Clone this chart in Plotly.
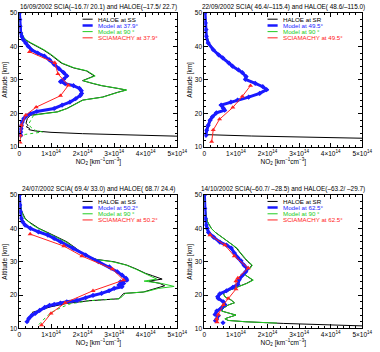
import plotly.graph_objects as go

# ---------------- data (NO2 in units of 1e14 km^-1 cm^-3, altitude in km) ----------------
titles = [
    "16/09/2002 SCIA(–16.7/ 20.1) and HALOE(–17.5/ 22.7)",
    "22/09/2002 SCIA( 46.4/–115.4) and HALOE( 48.6/–115.0)",
    "24/07/2002 SCIA( 69.4/ 33.0) and HALOE( 68.7/ 24.4)",
    "14/10/2002 SCIA(–60.7/ –28.5) and HALOE(–63.2/ –29.7)",
]
haloe_names = ["HALOE at SS", "HALOE at SR", "HALOE at SS", "HALOE at SR"]
lat_names = ["37.9", "49.5", "50.2", "62.5"]

# Panel 1
p1_haloe_alt = [50, 47, 45, 43, 42, 41, 40, 39, 37.5, 36, 35, 33.6, 32.7, 31.2, 30.5, 29.8, 29, 28.3, 27.5, 27,
                26.3, 25.5, 24.9, 24, 22.5, 21.5, 20.5, 20, 19.5, 18.5, 17.1, 16.5, 16, 15.6, 15.2, 14.8, 14.4,
                14, 13.7, 13.4, 13.2]
p1_haloe_x = [0.0, 0.02, 0.05, 0.1, 0.18, 0.35, 0.55, 0.75, 0.99, 1.2, 1.33, 1.71, 2.12, 2.37, 2.15, 2.0, 2.3, 2.6,
              3.1, 3.38, 3.1, 2.85, 2.63, 2.0, 1.71, 1.5, 1.2, 0.8, 0.35, 0.25, 0.21, 0.27, 0.22, 0.32, 0.3, 0.5,
              1.0, 2.0, 3.28, 4.3, 5.2]
p1_m90_alt = [50, 47, 45, 43, 42, 41, 40, 39, 37.5, 36, 35, 33.6, 32.7, 31.2, 30.5, 29.8, 29, 28.3, 27.5, 27,
              26.3, 25.5, 24.9, 24, 22.5, 21.5, 20.5, 20, 19.5]
p1_m90_x = [0.0, 0.02, 0.04, 0.12, 0.2, 0.38, 0.58, 0.78, 1.02, 1.22, 1.36, 1.74, 2.15, 2.4, 2.18, 2.02, 2.32, 2.62,
            3.12, 3.4, 3.12, 2.87, 2.65, 2.02, 1.74, 1.52, 1.22, 0.85, 0.45]
p1_m90low_alt = [19.5, 19, 18, 17, 16, 15, 14.5, 14.2, 13.8, 13.2, 12]
p1_m90low_x = [0.45, 0.42, 0.35, 0.3, 0.35, 0.5, 0.73, 0.5, 0.2, 0.05, 0.02]
p1_model_alt = [50, 48, 46, 44, 43, 42, 41, 40, 39, 38, 37.1, 36, 34.6, 33.4, 32.2, 31.2, 30.2, 29.5, 28.9, 28.3,
                27.5, 26.8, 26, 25.4, 24.4, 23.4, 22.5, 21.5, 20.6, 20, 19.3, 18.5, 17.5, 16.5, 15.5, 14.5, 13.5]
p1_model_x = [0.0, 0.01, 0.02, 0.04, 0.07, 0.12, 0.2, 0.28, 0.38, 0.58, 0.79, 0.95, 1.1, 1.25, 1.4, 1.5, 1.4, 1.3,
              1.45, 1.71, 1.9, 1.96, 1.97, 1.93, 1.78, 1.6, 1.35, 1.1, 0.55, 0.35, 0.22, 0.14, 0.09, 0.06, 0.05,
              0.04, 0.04]
p1_scia_alt = [38.4, 35.1, 31.8, 28.4, 25.3, 21.9, 19.5, 16.5, 13.5, 11.4]
p1_scia_x = [0.32, 1.12, 1.22, 1.55, 1.3, 0.53, 0.2, 0.06, 0.03, 0.02]

# Panel 2
p2_haloe_alt = [50, 47, 45, 43, 41, 39, 37.5, 36.6, 35, 34.1, 33, 32.2, 31, 30.2, 29, 28, 27.1, 26, 24.9, 24, 23.4,
                22.5, 21.6, 21, 20.2, 19, 18, 16.5, 15, 14, 13.7, 13.3, 12.9, 12.6]
p2_haloe_x = [0.02, 0.03, 0.05, 0.07, 0.13, 0.29, 0.46, 0.59, 0.79, 0.9, 1.09, 1.21, 1.33, 1.31, 1.62, 1.86, 1.98,
              1.76, 1.41, 1.06, 0.85, 0.54, 0.61, 0.65, 0.39, 0.26, 0.19, 0.13, 0.08, 0.06, 0.1, 1.5, 3.5, 5.2]
p2_m90_alt = [50, 47, 45, 43, 41, 39, 37.5, 36.6, 35, 34.1, 33, 32.2, 31, 30.2, 29, 28, 27.1, 26, 24.9, 24, 23.4,
              22.5, 21.6, 21, 20.2, 19, 18, 16.5, 15, 13.5]
p2_m90_x = [0.02, 0.04, 0.06, 0.08, 0.15, 0.31, 0.48, 0.61, 0.81, 0.92, 1.11, 1.23, 1.35, 1.33, 1.64, 1.88, 2.0,
            1.78, 1.43, 1.08, 0.87, 0.56, 0.63, 0.67, 0.41, 0.28, 0.2, 0.13, 0.08, 0.05]
p2_model_alt = [50, 47, 45, 43, 41, 39, 37.5, 36.6, 35, 34.1, 33, 32.2, 31, 30.2, 29, 28, 27.1, 26, 24.9, 24, 23.4,
                22.5, 21.6, 21, 20.2, 19, 18, 16.5, 15, 13.5]
p2_model_x = [0.02, 0.03, 0.05, 0.06, 0.12, 0.28, 0.45, 0.58, 0.78, 0.89, 1.08, 1.2, 1.32, 1.3, 1.61, 1.85, 1.97,
              1.75, 1.4, 1.05, 0.84, 0.53, 0.6, 0.64, 0.38, 0.25, 0.18, 0.12, 0.07, 0.05]
p2_scia_alt = [28.3, 25.1, 21.8, 18.3, 15.1, 11.6]
p2_scia_x = [1.46, 1.2, 0.9, 0.48, 0.28, 0.23]

# Panel 3
p3_haloe_alt = [50, 47, 45, 43, 42, 41, 40, 39, 37.2, 36, 34, 32.7, 31.5, 30.7, 30, 29, 27.8, 26.5, 25.8, 24.8,
                24.2, 23.5, 22.8, 22, 20.9, 20.5, 19.5, 18.9, 18.3, 17.5, 16.5, 15.5, 14.8]
p3_haloe_x = [0.0, 0.03, 0.08, 0.18, 0.3, 0.45, 0.62, 0.85, 1.26, 1.5, 1.8, 1.97, 2.2, 2.45, 3.0, 3.4, 3.71, 4.0,
              4.22, 4.52, 4.1, 4.45, 4.6, 4.3, 3.92, 3.3, 3.2, 3.15, 2.2, 1.5, 1.0, 0.6, 0.4]
p3_m90_alt = [50, 47, 45, 43, 42, 41, 40, 39, 37.2, 36, 34, 32.7, 31.5, 30.7, 30, 29, 27.8, 26.5, 25.8, 24.8,
              24.2, 23.5, 22.6, 22, 21, 20.5, 19.5, 18.9]
p3_m90_x = [0.0, 0.03, 0.07, 0.16, 0.28, 0.42, 0.6, 0.82, 1.22, 1.46, 1.78, 1.95, 2.17, 2.42, 2.95, 3.38, 3.68, 3.95,
            4.12, 4.35, 3.95, 4.5, 4.9, 4.4, 4.0, 3.35, 3.25, 3.15]
p3_m90low_alt = [18.9, 18.3, 17.4, 16.4, 15, 13.5, 12, 11]
p3_m90low_x = [3.15, 2.2, 1.62, 1.35, 1.05, 0.85, 0.7, 0.6]
p3_model_alt = [50, 47, 45, 43, 42, 41, 40, 39, 38, 37, 36, 34, 32, 30, 28.5, 27, 26, 25, 24.5, 24, 23.5, 23, 22.5,
                22, 21.3, 20.5, 19.9, 19.2, 18.4, 18.0, 17.6, 17.2, 16.9, 16.3, 15.4, 14.5, 13.9, 13, 12]
p3_model_x = [0.0, 0.01, 0.03, 0.06, 0.1, 0.18, 0.35, 0.6, 0.9, 1.1, 1.3, 1.7, 2.1, 2.5, 2.85, 3.1, 3.25, 3.38,
              3.4, 3.2, 3.3, 3.15, 3.25, 3.0, 2.84, 2.6, 2.33, 2.1, 1.82, 1.5, 1.3, 1.1, 0.95, 0.8, 0.64, 0.5,
              0.39, 0.3, 0.24]
p3_scia_alt = [38.3, 34.7, 31.7, 27.8, 24.5, 21.3, 17.7, 14.5, 11.0]
p3_scia_x = [0.34, 1.41, 1.98, 2.95, 3.3, 2.33, 1.45, 1.0, 0.7]

# Panel 4
p4_haloe_alt = [50, 46, 44, 42, 40, 38.8, 37.5, 36, 35, 34, 33, 32, 31, 30, 29, 28, 27, 26, 25, 24.5, 23.5, 22.5,
                21.5, 20.5, 19.5, 18.5, 17.7, 17, 16, 15.2, 14.5, 14, 13.4, 12.9, 12.4, 12, 11.5, 11, 10.7]
p4_haloe_x = [0.0, 0.02, 0.05, 0.1, 0.22, 0.35, 0.55, 0.75, 0.9, 1.02, 1.1, 1.18, 1.28, 1.38, 1.5, 1.43, 1.3, 1.3,
              1.43, 1.53, 1.33, 1.03, 0.8, 0.6, 0.65, 0.85, 0.95, 0.75, 0.59, 0.55, 0.85, 1.0, 0.8, 0.65, 0.75,
              1.3, 2.5, 4.0, 5.2]
p4_m90_alt = [50, 46, 44, 42, 40, 38.8, 37.5, 36, 35, 34, 33, 32, 31, 30, 29, 28, 27, 26, 25, 24.5, 23.5, 22.5,
              21.5, 20.5, 19.5, 18.5, 17.7, 17, 16, 15.2, 14.5, 14, 13.4, 12.9, 12.4, 12, 11.6]
p4_m90_x = [0.0, 0.02, 0.05, 0.1, 0.22, 0.35, 0.55, 0.78, 0.92, 1.05, 1.12, 1.2, 1.3, 1.4, 1.52, 1.45, 1.3, 1.3,
            1.45, 1.55, 1.35, 1.05, 0.8, 0.6, 0.65, 0.85, 0.95, 0.75, 0.59, 0.55, 0.85, 1.0, 0.8, 0.65, 0.75,
            1.3, 2.3]
p4_model_alt = [50, 46, 43, 41, 40, 38.8, 37.4, 35.9, 35, 34.1, 32.6, 31.2, 30.3, 28.9, 27.9, 27, 26, 24.6, 23.2,
                22.3, 21.3, 20.4, 19.5, 19, 18, 17.1, 16.1, 15.2, 14.2, 13.8, 12.8, 12.3]
p4_model_x = [0.0, 0.01, 0.03, 0.06, 0.09, 0.13, 0.29, 0.49, 0.7, 0.85, 0.95, 1.06, 1.16, 1.26, 1.36, 1.31, 1.21,
              1.1, 1.06, 0.9, 0.7, 0.49, 0.42, 0.44, 0.6, 0.65, 0.54, 0.39, 0.34, 0.44, 0.39, 0.35]
p4_model_extra_alt = [11.7]
p4_model_extra_x = [0.59]
p4_scia_alt = [38.0, 35.0, 31.7, 28.1, 25.1, 24.2, 21.8, 19.0, 17.1, 14.2, 12.8, 11.9]
p4_scia_x = [0.18, 0.65, 0.95, 1.39, 1.06, 1.0, 1.0, 0.75, 0.6, 0.44, 0.39, 0.4]

x_tickvals = [0, 1, 2, 3, 4, 5]
x_ticktext = ["0"] + [f"{i}×10<sup>14</sup>" for i in range(1, 6)]
y_tickvals = [10, 20, 30, 40, 50]

# ---------------- styling ----------------
BLACK = "#000000"
BLUE = "#1a1aff"
GREEN = "#22cc22"
RED = "#ff2222"
FONT = "Liberation Sans"
FS_TICK = 6.5
FS_TITLE = 6.4
FS_LEG = 6.2
FS_AX = 6.5

W, H = 380, 352
xdoms = [[18 / W, 181 / W], [209 / W, 372 / W]]
ydoms = [[1 - 146 / H, 1 - 9 / H], [1 - 331 / H, 1 - 195 / H]]

panels = [
    dict(haloe=(p1_haloe_x, p1_haloe_alt), m90=(p1_m90_x, p1_m90_alt), m90low=(p1_m90low_x, p1_m90low_alt),
         model=(p1_model_x, p1_model_alt), extra=None, scia=(p1_scia_x, p1_scia_alt)),
    dict(haloe=(p2_haloe_x, p2_haloe_alt), m90=(p2_m90_x, p2_m90_alt), m90low=None,
         model=(p2_model_x, p2_model_alt), extra=None, scia=(p2_scia_x, p2_scia_alt)),
    dict(haloe=(p3_haloe_x, p3_haloe_alt), m90=(p3_m90_x, p3_m90_alt), m90low=(p3_m90low_x, p3_m90low_alt),
         model=(p3_model_x, p3_model_alt), extra=None, scia=(p3_scia_x, p3_scia_alt)),
    dict(haloe=(p4_haloe_x, p4_haloe_alt), m90=(p4_m90_x, p4_m90_alt), m90low=None,
         model=(p4_model_x, p4_model_alt), extra=(p4_model_extra_x, p4_model_extra_alt),
         scia=(p4_scia_x, p4_scia_alt)),
]

fig = go.Figure()
layout_axes = {}
annotations = []
shapes = []

for i, p in enumerate(panels):
    n = i + 1
    xa = "x" if n == 1 else f"x{n}"
    ya = "y" if n == 1 else f"y{n}"
    col = i % 2
    row = i // 2

    fig.add_trace(go.Scatter(x=p["haloe"][0], y=p["haloe"][1], mode="lines",
                             line=dict(color=BLACK, width=1), xaxis=xa, yaxis=ya, showlegend=False))
    fig.add_trace(go.Scatter(x=p["m90"][0], y=p["m90"][1], mode="lines",
                             line=dict(color=GREEN, width=1), xaxis=xa, yaxis=ya, showlegend=False))
    if p["m90low"] is not None:
        fig.add_trace(go.Scatter(x=p["m90low"][0], y=p["m90low"][1], mode="lines",
                                 line=dict(color=GREEN, width=1, dash="dot"), xaxis=xa, yaxis=ya,
                                 showlegend=False))
    fig.add_trace(go.Scatter(x=p["model"][0], y=p["model"][1], mode="lines+markers",
                             line=dict(color=BLUE, width=3),
                             marker=dict(symbol="diamond", size=4, color=BLUE),
                             xaxis=xa, yaxis=ya, showlegend=False))
    if p["extra"] is not None:
        fig.add_trace(go.Scatter(x=p["extra"][0], y=p["extra"][1], mode="markers",
                                 marker=dict(symbol="diamond", size=4, color=BLUE),
                                 xaxis=xa, yaxis=ya, showlegend=False))
    fig.add_trace(go.Scatter(x=p["scia"][0], y=p["scia"][1], mode="lines+markers",
                             line=dict(color=RED, width=1),
                             marker=dict(symbol="triangle-up", size=4.5, color=RED),
                             xaxis=xa, yaxis=ya, showlegend=False))

    common = dict(showline=True, linecolor="black", linewidth=1, mirror="allticks",
                  ticks="inside", ticklen=4, tickwidth=0.8, tickcolor="black",
                  showgrid=False, zeroline=False,
                  tickfont=dict(size=FS_TICK, family=FONT, color="black"))
    layout_axes["xaxis" if n == 1 else f"xaxis{n}"] = dict(
        common, domain=xdoms[col], anchor=ya, range=[0, 5],
        tickvals=x_tickvals, ticktext=x_ticktext,
        minor=dict(dtick=0.2, ticklen=2, ticks="inside", tickcolor="black", showgrid=False),
        title=dict(text="NO<sub>2</sub> [km<sup>−1</sup>cm<sup>−3</sup>]",
                   font=dict(size=FS_AX, family=FONT, color="black"), standoff=0),
    )
    layout_axes["yaxis" if n == 1 else f"yaxis{n}"] = dict(
        common, domain=ydoms[row], anchor=xa, range=[10, 50],
        tickvals=y_tickvals,
        minor=dict(dtick=2, ticklen=2, ticks="inside", tickcolor="black", showgrid=False),
        title=dict(text="Altitude [km]", font=dict(size=FS_AX, family=FONT, color="black"), standoff=1),
    )

    # panel title
    annotations.append(dict(text=titles[i], xref=f"{xa} domain", yref=f"{ya} domain", x=0.5, y=1,
                            xanchor="center", yanchor="bottom", yshift=0, showarrow=False,
                            font=dict(size=FS_TITLE, family=FONT, color="black")))

    # legend (manual, inside the panel)
    leg = [(haloe_names[i], BLACK, 1),
           (f"Model at {lat_names[i]}°", BLUE, 2.5),
           ("Model at 90 °", GREEN, 1),
           (f"SCIAMACHY at {lat_names[i]}°", RED, 1)]
    for k, (txt, c, w) in enumerate(leg):
        yy = 48.1 - 1.85 * k
        shapes.append(dict(type="line", xref=xa, yref=ya, x0=2.0, x1=2.32, y0=yy, y1=yy,
                           line=dict(color=c, width=w)))
        annotations.append(dict(text=txt, xref=xa, yref=ya, x=2.45, y=yy, xanchor="left",
                                yanchor="middle", showarrow=False, borderpad=0,
                                font=dict(size=FS_LEG, family=FONT, color=c)))

fig.update_layout(
    width=W, height=H,
    margin=dict(l=0, r=0, t=0, b=0),
    paper_bgcolor="white", plot_bgcolor="white",
    font=dict(family=FONT, size=FS_TICK, color="black"),
    showlegend=False,
    annotations=annotations, shapes=shapes,
    **layout_axes,
)

fig.write_html("out.html")
